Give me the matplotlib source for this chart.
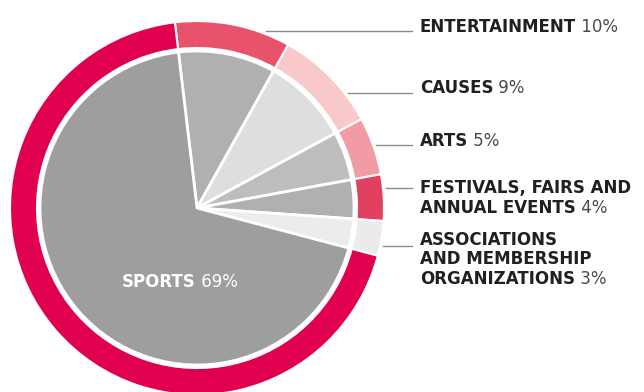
import matplotlib.pyplot as plt
import numpy as np

# category shares, clockwise from the top
names = ["ENTERTAINMENT", "CAUSES", "ARTS", "FESTIVALS, FAIRS AND\nANNUAL EVENTS",
         "ASSOCIATIONS\nAND MEMBERSHIP\nORGANIZATIONS", "SPORTS"]
shares = [10, 9, 5, 4, 3, 69]
ring_colors = ["#e8536b", "#f8c8cb", "#f19ba4", "#e2405f", "#ebebeb", "#e0004f"]
fill_colors = ["#b0b0b0", "#dedede", "#bdbdbd", "#b0b0b0", "#ececec", "#9e9e9e"]

W, H = 644, 392
cx, cy = 197, H - 208
R_out, ring_w, R_in = 187, 27, 157

fig = plt.figure(figsize=(W / 100, H / 100), dpi=100)
ax = fig.add_axes([0, 0, 1, 1])

start = 96.8
ax.pie(shares, colors=ring_colors, radius=R_out, center=(cx, cy), startangle=start,
       counterclock=False, wedgeprops=dict(width=ring_w, edgecolor="white", linewidth=1.5))
ax.pie(shares, colors=fill_colors, radius=R_in, center=(cx, cy), startangle=start,
       counterclock=False, wedgeprops=dict(edgecolor="white", linewidth=2))
ax.set_xlim(0, W)
ax.set_ylim(0, H)
ax.set_aspect("equal")
ax.axis("off")

font = "DejaVu Sans"
txt_color = "#231f20"
pct_color = "#4a4a4a"
fs = 12
line_y = [31, 93, 145, 188, 246]
text_y = [32, 93, 146, 193, 245]
step = 19.5

for name, pct, ly, ty in zip(names[:-1], shares[:-1], line_y, text_y):
    # leader line from the ring edge to the label
    dy = (H - ly) - cy
    x0 = cx + np.sqrt((R_out + 3) ** 2 - dy ** 2)
    ax.plot([x0, 412], [H - ly, H - ly], color="#8c8c8c", lw=1)
    lines = name.split("\n")
    for i, ln in enumerate(lines):
        t = ax.text(420, H - (ty + i * step), ln, fontsize=fs, fontweight="bold",
                    family=font, color=txt_color, va="baseline", ha="left")
    ax.annotate(f" {pct}%", xy=(1, 0), xycoords=t, xytext=(0, 0),
                textcoords="offset points", fontsize=fs, fontweight="normal",
                family=font, color=pct_color, va="bottom", ha="left")

t = ax.text(122, H - 287, "SPORTS", fontsize=fs, fontweight="bold", family=font,
            color="white", va="baseline", ha="left")
ax.annotate(f" {shares[-1]}%", xy=(1, 0), xycoords=t, xytext=(0, 0),
            textcoords="offset points", fontsize=fs, fontweight="normal",
            family=font, color="white", va="bottom", ha="left")

fig.savefig("out.png", dpi=100)
